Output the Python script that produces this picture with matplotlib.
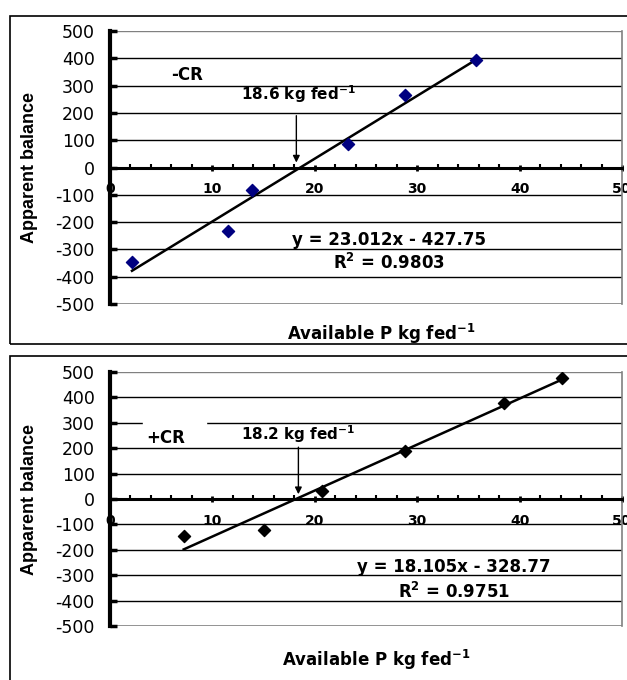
import matplotlib
matplotlib.use("Agg")
import matplotlib.pyplot as plt
from matplotlib.patches import Rectangle

plt.rcParams['font.family'] = ['DejaVu Sans']
plt.rcParams['axes.unicode_minus'] = False
plt.rcParams['mathtext.default'] = 'bf'

# -CR panel
x_cr_minus = [2.15, 11.5, 13.9, 23.2, 28.8, 35.7]
y_cr_minus = [-345, -232, -81, 85, 264, 392]
fit_minus = (23.012, -427.75)

# +CR panel
x_cr_plus = [7.2, 15.0, 20.7, 28.8, 38.5, 44.1]
y_cr_plus = [-145, -122, 30, 191, 380, 476]
fit_plus = (18.105, -328.77)

fig = plt.figure(figsize=(6.27, 6.80), dpi=100)

# outer frames around each panel
fig.patches.append(Rectangle((0.016, 0.494), 1.1, 0.482, transform=fig.transFigure,
                             fill=False, ec='black', lw=1.2))
fig.patches.append(Rectangle((0.016, -0.05), 1.1, 0.5265, transform=fig.transFigure,
                             fill=False, ec='black', lw=1.2))


def panel(ax, xs, ys, fit, color, r2, cut, cut_xy, eq_xy):
    slope, icpt = fit
    ax.set_xlim(0, 50)
    ax.set_ylim(-500, 500)
    for v in range(-400, 500, 100):
        ax.axhline(v, color='black', lw=1, zorder=1)
    ax.axhline(500, color='#808080', lw=1, zorder=1)
    ax.axhline(-500, color='#808080', lw=1.2, zorder=1)
    for s in ['top', 'right']:
        ax.spines[s].set_visible(False)
    ax.plot([50, 50], [-500, 500], color='#808080', lw=1.2, clip_on=False)
    ax.spines['left'].set_linewidth(3)
    ax.spines['bottom'].set_position(('data', 0))
    ax.spines['bottom'].set_linewidth(2.2)
    ax.set_yticks(range(-500, 501, 100))
    ax.set_xticks(range(0, 51, 10))
    ax.set_xticks(range(0, 51, 2), minor=True)
    ax.tick_params(axis='y', labelsize=12.5, direction='in', length=5, width=2.5, pad=11)
    ax.tick_params(axis='x', which='major', direction='inout', length=5, width=2,
                   labelsize=10, pad=8)
    ax.tick_params(axis='x', which='minor', direction='in', length=3, width=1.5)
    for t in ax.get_xticklabels():
        t.set_fontweight('bold')

    xl = [min(xs), max(xs)]
    ax.plot(xl, [slope * v + icpt for v in xl], color='black', lw=1.8, zorder=3)
    ax.scatter(xs, ys, marker='D', s=38, color=color, zorder=4)

    ax.set_ylabel('Apparent balance', fontsize=13, fontweight='bold',
                  family='Liberation Sans')
    ax.yaxis.set_label_coords(-0.141, 0.5)
    ax.text(cut_xy[0], cut_xy[1], cut, fontsize=11, fontweight='bold',
            ha='center', va='center', zorder=6)
    ax.annotate('', xy=(cut_xy[2], 8), xytext=(cut_xy[2], cut_xy[3]),
                arrowprops=dict(arrowstyle='-|>', color='black', lw=1,
                                mutation_scale=10), zorder=6)
    ax.text(eq_xy[0], eq_xy[1], 'y = %.3fx - %.2f' % (slope, -icpt),
            fontsize=12, fontweight='bold', ha='center', va='center', zorder=6)
    ax.text(eq_xy[0], eq_xy[2], 'R$^{2}$ = ' + r2,
            fontsize=12, fontweight='bold', ha='center', va='center', zorder=6)


ax1 = fig.add_axes([0.1754, 0.5529, 0.8166, 0.4015])
panel(ax1, x_cr_minus, y_cr_minus, fit_minus, '#000080', '0.9803',
      '18.6 kg fed$^{-1}$', (18.4, 270, 18.2, 200), (27.2, -264, -351))
ax1.text(6.0, 340, '-CR', fontsize=12, fontweight='bold', ha='left', va='center')
ax1.set_xlabel('Available P kg fed$^{-1}$', fontsize=12, fontweight='bold')
ax1.xaxis.set_label_coords(0.53, -0.065)

ax2 = fig.add_axes([0.1754, 0.0794, 0.8166, 0.3735])
panel(ax2, x_cr_plus, y_cr_plus, fit_plus, 'black', '0.9751',
      '18.2 kg fed$^{-1}$', (18.4, 255, 18.4, 215), (33.6, -268, -364))
ax2.add_patch(Rectangle((3.2, 280), 6.2, 40, color='white', zorder=2))
ax2.text(3.5, 240, '+CR', fontsize=12, fontweight='bold', ha='left', va='center', zorder=6)
ax2.set_xlabel('Available P kg fed$^{-1}$', fontsize=12, fontweight='bold')
ax2.xaxis.set_label_coords(0.52, -0.085)

fig.savefig('out.png', dpi=100)
